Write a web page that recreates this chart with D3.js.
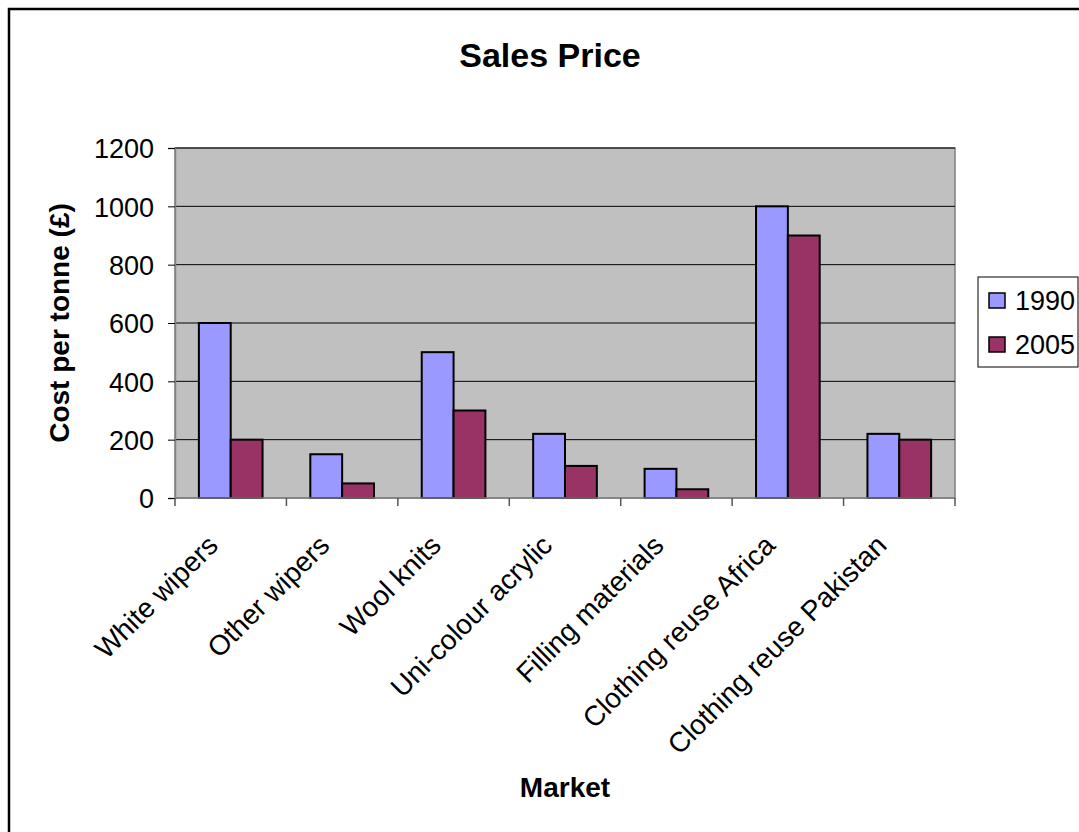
<!DOCTYPE html>
<html>
<head>
<meta charset="utf-8">
<script src="https://cdn.jsdelivr.net/npm/d3@7"></script>
<style>
  html, body { margin: 0; padding: 0; background: #fff; }
  svg { display: block; font-family: "Liberation Sans", Arial, sans-serif; }
  svg text { font-family: "Liberation Sans", Arial, sans-serif; }
</style>
</head>
<body>
<svg id="chart" width="1079" height="832"></svg>
<script>
// Market categories and sales price per tonne (£)
const categories = ["White wipers", "Other wipers", "Wool knits", "Uni-colour acrylic",
                    "Filling materials", "Clothing reuse Africa", "Clothing reuse Pakistan"];
const seriesNames = ["1990", "2005"];
const values1990 = [600, 150, 500, 220, 100, 1000, 220];
const values2005 = [200, 50, 300, 110, 30, 900, 200];
const yTicks = [0, 200, 400, 600, 800, 1000, 1200];
const seriesColors = ["#9999FF", "#993366"];

const svg = d3.select("#chart");

// outer chart frame
svg.append("rect")
  .attr("x", 9).attr("y", 9).attr("width", 1200).attr("height", 1000)
  .attr("fill", "#fff").attr("stroke", "#000").attr("stroke-width", 2.5);

const plot = { left: 175, top: 148, right: 955, bottom: 498 };

const x = d3.scaleBand().domain(categories).range([plot.left, plot.right]);
// bars: gap width 150% of a bar on each side of a two-bar cluster
const inner = d3.scaleBand().domain(seriesNames)
  .range([0, x.bandwidth()]).paddingOuter(0.75).paddingInner(0);
const y = d3.scaleLinear().domain([0, 1200]).range([plot.bottom, plot.top]);

// plot area background
svg.append("rect")
  .attr("x", plot.left).attr("y", plot.top)
  .attr("width", plot.right - plot.left).attr("height", plot.bottom - plot.top)
  .attr("fill", "#C0C0C0").attr("stroke", "#808080").attr("stroke-width", 1.5);

// horizontal gridlines
svg.append("g").selectAll("line")
  .data(yTicks.filter(d => d > 0))
  .join("line")
  .attr("x1", plot.left).attr("x2", plot.right)
  .attr("y1", d => y(d)).attr("y2", d => y(d))
  .attr("stroke", "#000").attr("stroke-width", 1);

// bars
const table = categories.map((c, i) => ({ cat: c, vals: [values1990[i], values2005[i]] }));
const groups = svg.append("g").selectAll("g")
  .data(table).join("g")
  .attr("transform", d => `translate(${x(d.cat)},0)`);
groups.selectAll("rect")
  .data(d => d.vals.map((v, j) => ({ key: seriesNames[j], v, j })))
  .join("rect")
  .attr("x", d => inner(d.key))
  .attr("width", inner.bandwidth())
  .attr("y", d => y(d.v))
  .attr("height", d => y(0) - y(d.v))
  .attr("fill", d => seriesColors[d.j])
  .attr("stroke", "#000").attr("stroke-width", 2);

// y axis
const yAxis = d3.axisLeft(y).tickValues(yTicks).tickFormat(d3.format("d"))
  .tickSize(7).tickPadding(14);
const gy = svg.append("g").attr("transform", `translate(${plot.left},0)`).call(yAxis);
gy.attr("font-family", null).attr("font-size", null);
gy.select(".domain").attr("stroke", "#808080").attr("stroke-width", 1.5);
gy.selectAll(".tick line").attr("stroke", "#000");
gy.selectAll(".tick text")
  .attr("font-size", 27)
  .attr("fill", "#000").attr("dy", "0.36em");

// x axis: ticks on category boundaries
const gx = svg.append("g");
gx.append("line")
  .attr("x1", plot.left).attr("x2", plot.right)
  .attr("y1", plot.bottom).attr("y2", plot.bottom)
  .attr("stroke", "#808080").attr("stroke-width", 1.5);
const boundaries = categories.map(c => x(c)).concat([plot.right]);
gx.selectAll("line.tk").data(boundaries).join("line").attr("class", "tk")
  .attr("x1", d => d).attr("x2", d => d)
  .attr("y1", plot.bottom).attr("y2", plot.bottom + 8)
  .attr("stroke", "#555").attr("stroke-width", 1.5);
gx.selectAll("text").data(categories).join("text")
  .attr("transform", d => `translate(${x(d) + x.bandwidth() / 2 - 11},547) rotate(-45)`)
  .attr("text-anchor", "end")
  .attr("font-size", 28)
  .attr("fill", "#000")
  .text(d => d);

// title and axis titles
svg.append("text")
  .attr("x", 550).attr("y", 67).attr("text-anchor", "middle")
  .attr("font-size", 34).attr("font-weight", "bold").text("Sales Price");
svg.append("text")
  .attr("transform", `translate(69,${(plot.top + plot.bottom) / 2}) rotate(-90)`)
  .attr("text-anchor", "middle")
  .attr("font-size", 28).attr("font-weight", "bold").text("Cost per tonne (£)");
svg.append("text")
  .attr("x", (plot.left + plot.right) / 2).attr("y", 797).attr("text-anchor", "middle")
  .attr("font-size", 28).attr("font-weight", "bold").text("Market");

// legend
const legend = svg.append("g");
legend.append("rect")
  .attr("x", 978).attr("y", 277).attr("width", 100).attr("height", 90)
  .attr("fill", "#fff").attr("stroke", "#000").attr("stroke-width", 1);
const items = legend.selectAll("g.item").data(seriesNames).join("g").attr("class", "item")
  .attr("transform", (d, i) => `translate(989,${293 + i * 44})`);
items.append("rect")
  .attr("width", 16).attr("height", 15)
  .attr("fill", (d, i) => seriesColors[i])
  .attr("stroke", "#000").attr("stroke-width", 1.5);
items.append("text")
  .attr("x", 26).attr("y", 17)
  .attr("font-size", 27).attr("fill", "#000")
  .text(d => d);
</script>
</body>
</html>
